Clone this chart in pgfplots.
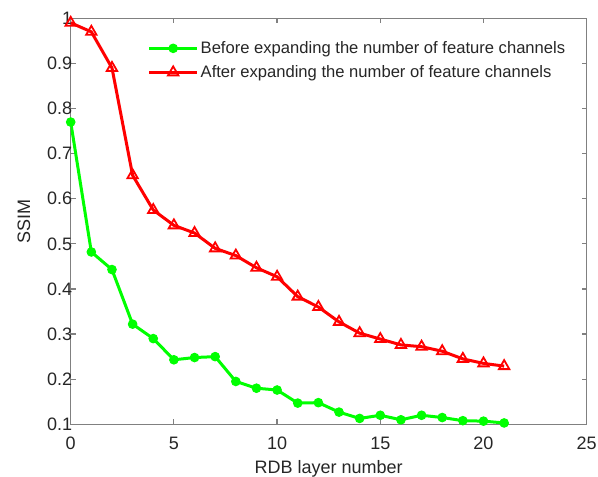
\documentclass[border=0pt]{standalone}
\usepackage{fontspec}
\setmainfont{Liberation Sans}
\usepackage{pgfplots}
\pgfplotsset{compat=1.18}
\definecolor{axgray}{RGB}{128,128,128}
\definecolor{txt}{RGB}{38,38,38}
\definecolor{mgreen}{RGB}{0,255,0}
\definecolor{mred}{RGB}{255,0,0}
\begin{document}
\begin{tikzpicture}
\begin{axis}[
  scale only axis,
  width=516pt, height=406pt,
  xmin=0, xmax=25, ymin=0.1, ymax=1,
  xtick={0,5,10,15,20,25},
  ytick={0.1,0.2,0.3,0.4,0.5,0.6,0.7,0.8,0.9,1},
  yticklabels={0.1,0.2,0.3,0.4,0.5,0.6,0.7,0.8,0.9,1},
  tick align=inside,
  tick pos=both,
  major tick length=5pt,
  axis line style={axgray, line width=1.5pt},
  every tick/.style={axgray, line width=1.2pt},
  tick label style={font=\fontsize{18}{21}\selectfont, text=txt},
  xticklabel style={yshift=-9pt},
  yticklabel style={xshift=5pt},
  label style={font=\fontsize{18}{21}\selectfont, text=txt},
  xlabel style={yshift=-4pt},
  ylabel style={yshift=10pt},
  /pgf/number format/assume math mode=true,
  xlabel={RDB layer number},
  ylabel={SSIM},
  legend style={draw=none, fill=none, at={(0.143,0.953)}, anchor=north west,
    font=\fontsize{16.6}{20}\selectfont, text=txt, row sep=6.5pt},
  legend cell align=left,
  legend image code/.code={
    \draw[#1] (0pt,0pt) -- (48pt,0pt);
    \draw[#1, only marks] plot coordinates {(24pt,0pt)};
  },
]
\addplot[color=mgreen, line width=3pt, mark=*, mark size=4.3pt, mark options={line width=1pt}] coordinates {
(0,0.77) (1,0.482) (2,0.443) (3,0.322) (4,0.29) (5,0.243) (6,0.248) (7,0.25)
(8,0.195) (9,0.18) (10,0.176) (11,0.147) (12,0.148) (13,0.127) (14,0.113)
(15,0.12) (16,0.11) (17,0.12) (18,0.115) (19,0.108) (20,0.107) (21,0.103)
};
\addlegendentry{Before expanding the number of feature channels}
\addplot[color=mred, line width=3pt, mark=triangle, mark size=6pt, mark options={line width=1.8pt, solid}] coordinates {
(0,0.99) (1,0.97) (2,0.89) (3,0.652) (4,0.575) (5,0.541) (6,0.524) (7,0.49)
(8,0.474) (9,0.447) (10,0.427) (11,0.383) (12,0.36) (13,0.327) (14,0.302)
(15,0.289) (16,0.276) (17,0.272) (18,0.262) (19,0.245) (20,0.235) (21,0.229)
};
\addlegendentry{After expanding the number of feature channels}
\end{axis}
\pgfresetboundingbox
\path (-70.7pt,-52.7pt) rectangle (527.3pt,424.3pt);
\end{tikzpicture}
\end{document}
